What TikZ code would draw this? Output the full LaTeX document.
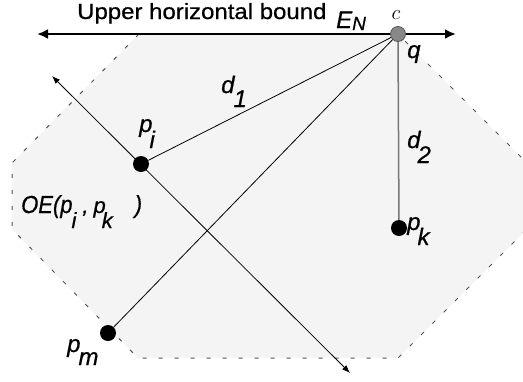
\documentclass[tikz,border=0pt]{standalone}
\usepackage{fontspec}
\setmainfont{Liberation Sans}[FakeBold=0.6, ItalicFeatures={FakeBold=0.6}]
\usetikzlibrary{arrows.meta}
\definecolor{regionfill}{HTML}{F4F4F4}
\definecolor{bordergray}{HTML}{555555}
\definecolor{cfill}{HTML}{888888}
\definecolor{cborder}{HTML}{555555}
\definecolor{vgray}{HTML}{777777}
\newcommand{\sublab}[4]{#1\kern#3\raisebox{#4}{#2}}
\begin{document}
\begin{tikzpicture}[x=1pt,y=-1pt,
  lab/.style={font=\fontsize{24}{28}\selectfont\itshape, inner sep=0pt, anchor=base west},
  ptdot/.style={circle, fill=black, minimum size=16pt, inner sep=0pt},
  cdot/.style={circle, fill=cfill, draw=cborder, line width=0.8pt, minimum size=15pt, inner sep=0pt},
  region/.style={fill=regionfill, draw=bordergray, dash pattern=on 4pt off 12pt, line width=1pt},
  bound/.style={line width=2.5pt, {Latex[length=11pt,width=10pt]}-{Latex[length=11pt,width=10pt]}},
  bisector/.style={line width=0.8pt, {Latex[length=8pt,width=6pt]}-{Latex[length=8pt,width=6pt]}},
  dist/.style={line width=0.8pt, black},
  vdist/.style={line width=1.5pt, vgray}]
\useasboundingbox (0,0) rectangle (523,381);
\clip (0,0) rectangle (523,381);
\fill[white] (0,0) rectangle (523,381);
% region OE(p_i,p_k)
\path[region] (139,34) -- (12,163) -- (12,229) -- (138,358) -- (398,358) -- (527,229) -- (527,163) -- (398,34) -- cycle;
% free ends
\coordinate (hl) at (37,34);
\coordinate (hr) at (456,34);
\coordinate (b1) at (52,76);
\coordinate (b2) at (350,373);
% upper horizontal bound
\draw[bound] (hl) -- (hr);
% bisector line
\draw[bisector] (b1) -- (b2);
% points
\node[ptdot] (pi) at (141,164) {};
\node[ptdot] (pk) at (399,228) {};
\node[ptdot] (pm) at (108,333) {};
\node[cdot] (c) at (398,34) {};
% connectors
\draw[dist] (c) -- (pi);
\draw[dist] (c) -- (pm);
\draw[vdist] (c) -- (pk);
% labels
\node[inner sep=0pt, anchor=base west] (title) at (77,19) {\fontsize{22}{26}\selectfont\scalebox{1.09}[1]{Upper horizontal bound}};
\node[lab, font=\fontsize{24}{28}\selectfont\itshape] (en) at (336,28) {\sublab{E}{\fontsize{19}{22}\selectfont N}{0pt}{-2pt}};
\node[inner sep=0pt] (clab) at (396,15) {\fontsize{21}{23}\selectfont$c$};
\node[lab] (qlab) at (407,58) {q};
\node[lab] (d1) at (221,93) {\sublab{d}{1}{-1pt}{-14pt}};
\node[lab] (d2) at (407,148) {\sublab{d}{2}{-3pt}{-15pt}};
\node[lab] (pil) at (139,132) {\sublab{p}{i}{-3pt}{-16pt}};
\node[lab] (pkl) at (407,230) {\sublab{p}{k}{-3pt}{-15pt}};
\node[lab] (pml) at (67,352) {\sublab{p}{m}{-2pt}{-13pt}};
\node[lab, font=\fontsize{22}{26}\selectfont\itshape] (oe) at (21,213) {\scalebox{1}[1.12]{OE(p}\kern-1pt\raisebox{-15pt}{i}\kern6pt,\kern5pt p\kern-4pt\raisebox{-15pt}{k}\kern22pt\scalebox{1}[1.12]{)}};
\end{tikzpicture}
\end{document}
